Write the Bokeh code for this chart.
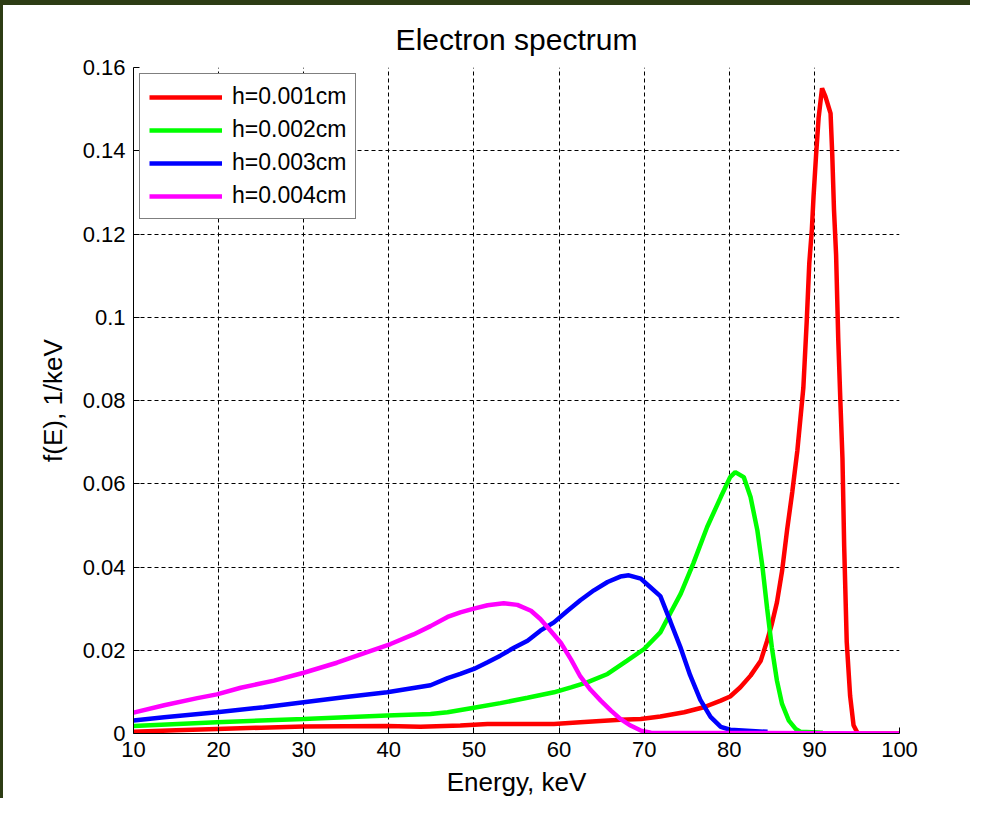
from bokeh.plotting import figure
from bokeh.models import FixedTicker, Legend, LegendItem, Range1d
from bokeh.embed import file_html
from bokeh.resources import INLINE

# ---- data ----
series_labels = ["h=0.001cm", "h=0.002cm", "h=0.003cm", "h=0.004cm"]
series_colors = ["#ff0000", "#00ff00", "#0000ff", "#ff00ff"]

e_red = [10, 15, 19.8, 25, 30, 39.8, 43.7, 48.4, 51.6, 55, 59.4, 62.5, 67.2, 69.6, 71.9,
         74.7, 77.0, 79.0, 80.1, 81.3, 82.5, 83.7, 84.45, 85.0, 85.6, 86.2, 86.8, 87.4, 88.0,
         88.7, 89.1, 89.4, 89.7, 89.9, 90.2, 90.5, 90.9, 91.3, 91.9, 92.1, 92.3, 92.55, 92.8,
         93.05, 93.3, 93.5, 93.8, 94.2, 94.6, 95.1, 100]
f_red = [0.0004, 0.0008, 0.0011, 0.0014, 0.0017, 0.0018, 0.0016, 0.0019, 0.0023, 0.0023,
         0.0023, 0.0027, 0.0033, 0.0035, 0.0041, 0.0051, 0.0063, 0.0079, 0.0089, 0.0111,
         0.0139, 0.0175, 0.0223, 0.0263, 0.0315, 0.039, 0.049, 0.058, 0.068, 0.083,
         0.099, 0.113, 0.121, 0.129, 0.139, 0.148, 0.155, 0.153, 0.149, 0.139,
         0.126, 0.115, 0.095, 0.080, 0.066, 0.045, 0.022, 0.009, 0.002, 0.0, 0.0]

e_green = [10, 19.8, 30, 39.8, 44.9, 46.9, 50, 53.1, 56.3, 59.4, 61.4, 63.3, 65.7, 68, 70,
           71.9, 73.1, 74.3, 75.8, 77.4, 79, 80.1, 80.7, 81.7, 82.5, 83.3, 83.9, 84.45, 85,
           85.6, 86.2, 87, 87.8, 88.4, 91]
f_green = [0.0018, 0.0027, 0.0035, 0.0043, 0.0047, 0.0051, 0.0062, 0.0073, 0.0086, 0.0099,
           0.0111, 0.0123, 0.0143, 0.0175, 0.0203, 0.0243, 0.0290, 0.0336, 0.041, 0.0496,
           0.0568, 0.0616, 0.0628, 0.0616, 0.0568, 0.0488, 0.040, 0.030, 0.0207, 0.0127,
           0.0071, 0.0031, 0.0011, 0.0004, 0.0002]

e_blue = [10, 13.6, 19.8, 25.3, 30, 34.7, 39.8, 44.9, 46.9, 48.4, 50, 51.6, 53.1, 54.7, 56.3,
          57.8, 59.4, 61, 62.5, 64.1, 65.7, 67.2, 68.2, 69.6, 70.7, 71.9, 73.1, 74.3, 75.4,
          76.6, 77.8, 79.0, 80.1, 84.5]
f_blue = [0.0031, 0.0039, 0.0051, 0.0063, 0.0075, 0.0087, 0.0099, 0.0116, 0.0133, 0.0143,
          0.0155, 0.0171, 0.0187, 0.0206, 0.0223, 0.0247, 0.0267, 0.0295, 0.0320, 0.0344,
          0.0364, 0.0377, 0.0380, 0.0372, 0.0352, 0.0330, 0.0268, 0.0205, 0.0140, 0.0081,
          0.0040, 0.0016, 0.0009, 0.0004]

e_magenta = [10, 13.6, 17.5, 19.8, 22.6, 26.5, 30, 33.9, 37.8, 40.2, 42.9, 44.9, 46.9, 48.4,
             50, 51.6, 53.5, 55.1, 56.7, 57.8, 59, 60.2, 61.4, 62.5, 63.7, 64.9, 66.1, 67.2,
             68.4, 69.6, 70.8, 100]
f_magenta = [0.0050, 0.0068, 0.0085, 0.0094, 0.0110, 0.0127, 0.0146, 0.0170, 0.0198, 0.0215,
             0.0238, 0.0258, 0.0280, 0.0291, 0.0300, 0.0308, 0.0313, 0.0309, 0.0295, 0.0275,
             0.0247, 0.0218, 0.0178, 0.0137, 0.0105, 0.0079, 0.0055, 0.0035, 0.0019, 0.0007,
             0.0002, 0.0]

x_ticks = [10, 20, 30, 40, 50, 60, 70, 80, 90, 100]
y_ticks = [0, 0.02, 0.04, 0.06, 0.08, 0.1, 0.12, 0.14, 0.16]
y_tick_labels = ["0", "0.02", "0.04", "0.06", "0.08", "0.1", "0.12", "0.14", "0.16"]

title_text = "Electron spectrum"
x_label = "Energy, keV"
y_label = "f(E), 1/keV"

FONT = "Liberation Sans"
EDGE = "#2d3c14"

p = figure(width=970, height=798,
           x_range=Range1d(10, 100), y_range=Range1d(0, 0.16),
           output_backend="svg", toolbar_location=None,
           min_border_left=130, min_border_right=74,
           min_border_top=62, min_border_bottom=70,
           title=title_text)
p.styles = {"border-top": f"5px solid {EDGE}", "border-left": f"3px solid {EDGE}"}

p.outline_line_color = None
p.background_fill_color = "white"
p.border_fill_color = "white"

p.title.text_font = FONT
p.title.text_font_size = "30px"
p.title.text_font_style = "normal"
p.title.text_color = "black"
p.title.align = "center"
p.title.vertical_align = "top"
p.title.standoff = 20

xs = [e_red, e_green, e_blue, e_magenta]
ys = [f_red, f_green, f_blue, f_magenta]
renderers = []
for e, f, c in zip(xs, ys, series_colors):
    r = p.line(e, f, line_color=c, line_width=4.5)
    renderers.append(r)

# axes
for ax in p.xaxis:
    ax.ticker = FixedTicker(ticks=x_ticks)
for ax in p.yaxis:
    ax.ticker = FixedTicker(ticks=y_ticks)
    ax.major_label_overrides = {t: s for t, s in zip(y_ticks, y_tick_labels)}

for ax in list(p.xaxis) + list(p.yaxis):
    ax.axis_line_color = "black"
    ax.axis_line_width = 1
    ax.major_tick_in = 6
    ax.major_tick_out = 0
    ax.minor_tick_line_color = None
    ax.major_tick_line_color = "black"
    ax.major_label_text_font = FONT
    ax.major_label_text_font_size = "22px"
    ax.major_label_text_color = "black"
    ax.axis_label_text_font = FONT
    ax.axis_label_text_font_size = "26px"
    ax.axis_label_text_font_style = "normal"
    ax.axis_label_text_color = "black"
    ax.major_label_standoff = 8

p.xaxis.axis_label = x_label
p.yaxis.axis_label = y_label
p.xaxis.axis_label_standoff = 7
p.yaxis.axis_label_standoff = 12

# grid
for g in list(p.xgrid) + list(p.ygrid):
    g.grid_line_color = "black"
    g.grid_line_width = 1
    g.grid_line_dash = "4 3"
p.xgrid.ticker = FixedTicker(ticks=x_ticks)
p.ygrid.ticker = FixedTicker(ticks=y_ticks)

legend = Legend(items=[LegendItem(label=l, renderers=[r]) for l, r in zip(series_labels, renderers)],
                location="top_left", margin=6,
                border_line_color="black", border_line_width=1,
                background_fill_color="white", background_fill_alpha=1,
                padding=9, spacing=6,
                glyph_width=73, glyph_height=24, label_height=24,
                label_standoff=10,
                label_text_font=FONT, label_text_font_size="23px",
                label_text_color="black")
p.add_layout(legend)

open("out.html", "w").write(file_html(p, INLINE))
